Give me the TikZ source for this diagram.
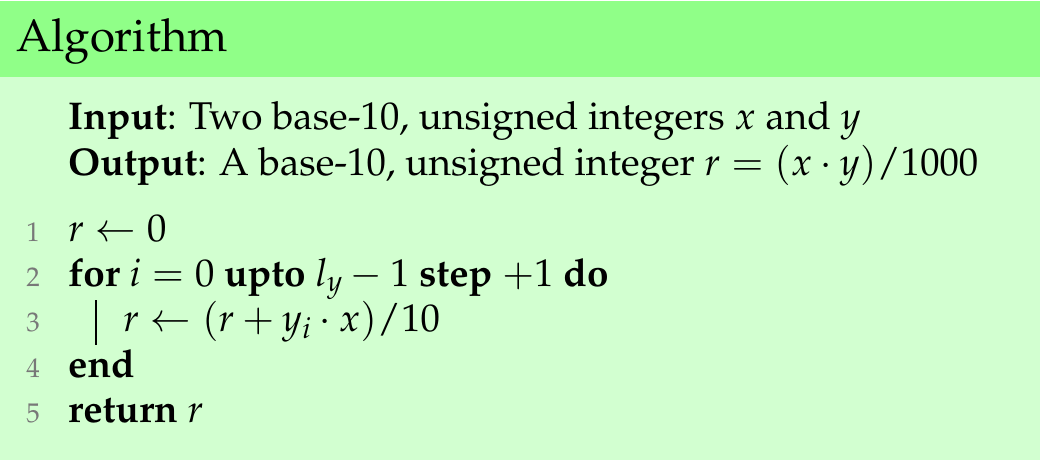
\documentclass[tikz,border=0pt]{standalone}
\usepackage[T1]{fontenc}
\usepackage{mathpazo}
\definecolor{titlegreen}{RGB}{144,255,136}
\definecolor{bodygreen}{RGB}{210,255,208}
\definecolor{numgray}{RGB}{120,120,120}
\begin{document}
\begin{tikzpicture}[x=1pt,y=-1pt,
  txt/.style={anchor=base west,inner sep=0pt,font=\fontsize{38.7}{46}\selectfont},
  ttl/.style={anchor=base west,inner sep=0pt,font=\fontsize{45.5}{54}\selectfont},
  lnum/.style={anchor=base east,inner sep=0pt,text=numgray,font=\fontsize{27}{32}\selectfont}]
\useasboundingbox (0,0) rectangle (1040,460);
\fill[bodygreen] (0,0) rectangle (1040,460);
\fill[white] (0,0) rectangle (1040,1);
\fill[titlegreen] (0,1) rectangle (1040,77);
\node[ttl] (title) at (16,52) {Algorithm};
\node[txt] (input) at (68,129) {\textbf{Input}: Two base-10, unsigned integers $x$ and $y$};
\node[txt] (output) at (68,175) {\textbf{Output}: A base-10, unsigned integer $r=(x\cdot y)/1000$};
\node[lnum] (n1) at (40,241) {1};
\node[lnum] (n2) at (40,286) {2};
\node[lnum] (n3) at (40,331) {3};
\node[lnum] (n4) at (40,377) {4};
\node[lnum] (n5) at (40,422) {5};
\node[txt] (l1) at (68,241) {$r\leftarrow 0$};
\node[txt] (l2) at (68,286) {\textbf{for} $i=0$ \textbf{upto} $l_y-1$ \textbf{step} $+1$ \textbf{do}};
\node[txt] (l3) at (123,331) {$r\leftarrow (r+y_i\cdot x)/10$};
\node[txt] (l4) at (68,377) {\textbf{end}};
\node[txt] (l5) at (68,422) {\textbf{return} $r$};
\coordinate (bartop) at (96,300);
\coordinate (barbot) at (96,345);
\draw[line width=1.3pt] (bartop) -- (barbot);
\end{tikzpicture}
\end{document}
